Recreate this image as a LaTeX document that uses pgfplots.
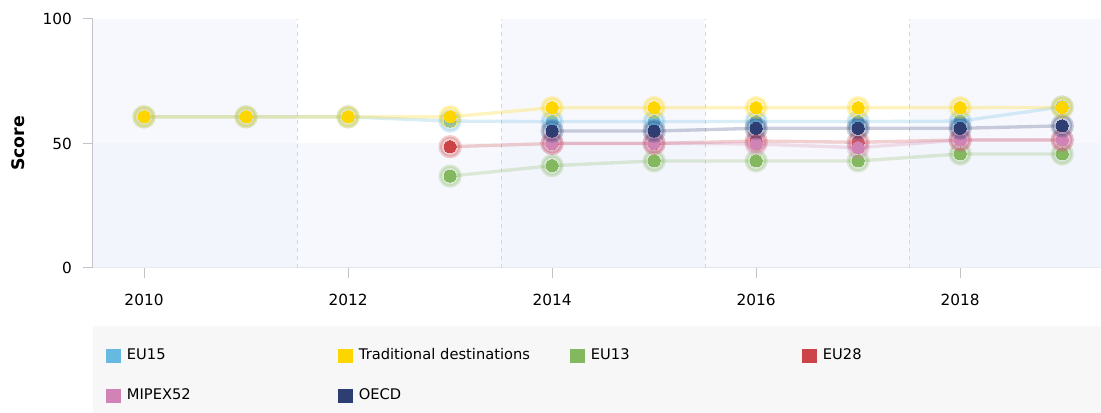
\documentclass[border=0pt]{standalone}
\usepackage{fontspec}
\setmainfont{DejaVu Sans}
\usepackage{pgfplots}
\pgfplotsset{compat=1.18}

\definecolor{eufift}{HTML}{66B9DF}
\definecolor{tradit}{HTML}{FFD500}
\definecolor{euthir}{HTML}{83B85F}
\definecolor{eutwen}{HTML}{CC4446}
\definecolor{mipex}{HTML}{D083B4}
\definecolor{oecd}{HTML}{2E3D72}
\definecolor{bandcol}{HTML}{EEF0FB}
\definecolor{legbg}{HTML}{F7F7F7}
\definecolor{axgray}{HTML}{C4C4C8}

% one series: faint line with halo, then solid dots on top
\newcommand{\series}[2]{%
  \addplot[color=#1, line width=2.5pt, opacity=0.25, mark=*, mark size=7.5pt,
    mark options={draw=none, fill=#1}, forget plot] coordinates {#2};
  \addplot[color=#1, only marks, mark=*, mark size=4.5pt,
    mark options={draw=#1, fill=#1, line width=0pt}, forget plot] coordinates {#2};
}

\begin{document}
\begin{tikzpicture}
  % grey legend panel
  \fill[legbg] (0pt,-43.5pt) rectangle (756pt,-108.75pt);
  \begin{axis}[
    at={(0pt,0pt)}, anchor=south west,
    scale only axis, width=756pt, height=186.75pt,
    xmin=2009.5, xmax=2019.38, ymin=0, ymax=100,
    axis x line*=bottom, axis y line*=left,
    x axis line style={draw=axgray!60, line width=0.75pt},
    y axis line style={draw=axgray, line width=0.75pt},
    xtick={2010,2012,2014,2016,2018}, ytick={0,50,100},
    tick align=outside, major tick length=7.5pt,
    tick style={draw=axgray, line width=0.75pt},
    ticklabel style={font=\fontsize{11.5}{13}\selectfont, inner sep=0pt},
    yticklabel style={xshift=-8.25pt},
    xticklabel style={yshift=-12pt},
    /pgf/number format/assume math mode=true,
    /pgf/number format/1000 sep={},
    ylabel={\fontsize{13}{15}\selectfont\bfseries Score},
    every axis y label/.style={at={(axis description cs:-0.0744,0.5)},
      rotate=90, anchor=center},
    legend columns=4,
    legend style={draw=none, fill=none, inner sep=0pt,
      at={(axis description cs:0.01257,-0.3253)}, anchor=north west,
      font=\fontsize{11}{13}\selectfont,
      nodes={inner sep=0pt, text width=158.25pt, text height=8pt, text depth=2.5pt},
      row sep=19.5pt,
      /tikz/every odd column/.append style={column sep=4.5pt}},
    legend image code/.code={\fill[#1, draw=none] (0pt,-5.25pt) rectangle (11.25pt,5.25pt);},
  ]
    % background bands
    \fill[bandcol, opacity=0.45] (axis cs:2009.5,0) rectangle (axis cs:2011.5,100);
    \fill[bandcol, opacity=0.45] (axis cs:2013.5,0) rectangle (axis cs:2015.5,100);
    \fill[bandcol, opacity=0.45] (axis cs:2017.5,0) rectangle (axis cs:2019.38,100);
    \fill[bandcol, opacity=0.45] (axis cs:2009.5,0) rectangle (axis cs:2019.38,50);
    \pgfplotsinvokeforeach{2011.5,2013.5,2015.5,2017.5}{
      \draw[axgray!70, line width=0.75pt, dash pattern=on 3pt off 3pt]
        (axis cs:#1,0) -- (axis cs:#1,100);
    }

    % EU15
    \series{eufift}{(2010,60.7) (2011,60.7) (2012,60.7) (2013,59.0) (2014,58.8)
      (2015,58.8) (2016,58.8) (2017,58.8) (2018,59.0) (2019,64.7)}
    % EU13
    \series{euthir}{(2013,36.9) (2014,41.1) (2015,43.0) (2016,43.0) (2017,43.0)
      (2018,45.8) (2019,45.8)}
    % EU28
    \series{eutwen}{(2013,48.7) (2014,50.0) (2015,50.0) (2016,51.0) (2017,50.5)
      (2018,51.4) (2019,51.4)}
    % MIPEX52
    \series{mipex}{(2014,50.1) (2015,50.1) (2016,49.8) (2017,48.3) (2018,51.4)
      (2019,51.4)}
    % OECD
    \series{oecd}{(2014,55.0) (2015,55.0) (2016,56.1) (2017,56.1) (2018,56.1)
      (2019,57.1)}
    % Traditional destinations
    \series{tradit}{(2010,60.7) (2011,60.7) (2012,60.7) (2013,60.7) (2014,64.4)
      (2015,64.4) (2016,64.4) (2017,64.4) (2018,64.4) (2019,64.5)}

    \addlegendimage{fill=eufift}\addlegendentry{EU15}
    \addlegendimage{fill=tradit}\addlegendentry{Traditional destinations}
    \addlegendimage{fill=euthir}\addlegendentry{EU13}
    \addlegendimage{fill=eutwen}\addlegendentry{EU28}
    \addlegendimage{fill=mipex}\addlegendentry{MIPEX52}
    \addlegendimage{fill=oecd}\addlegendentry{OECD}
  \end{axis}
  \pgfresetboundingbox
  \useasboundingbox (-69.75pt,-108.75pt) rectangle (756pt,201pt);
\end{tikzpicture}
\end{document}
